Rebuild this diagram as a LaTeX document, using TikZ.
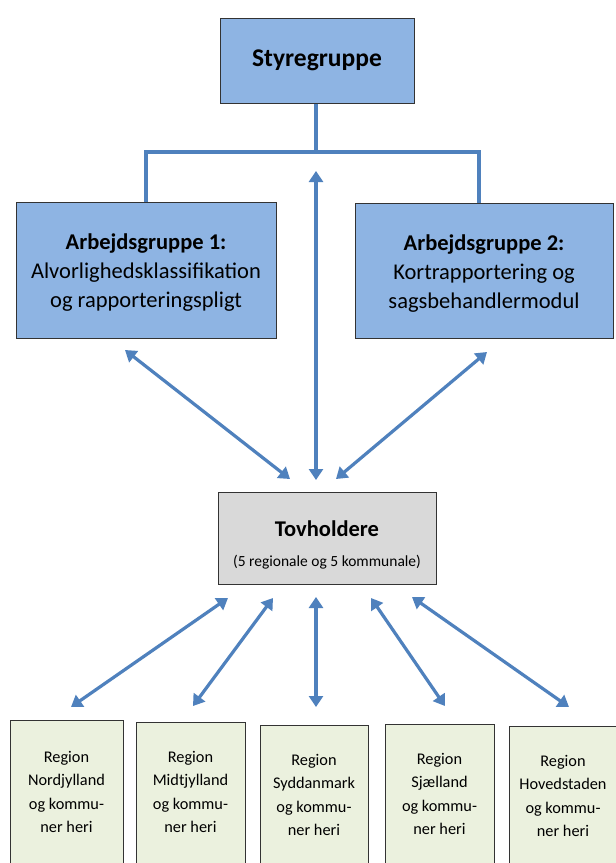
\documentclass[tikz,border=0pt]{standalone}
\usepackage{fontspec}
\setmainfont{Carlito}
\usetikzlibrary{arrows.meta}
\definecolor{boxblue}{HTML}{8EB4E3}
\definecolor{arrowblue}{HTML}{4F81BD}
\definecolor{boxgray}{HTML}{D9D9D9}
\definecolor{boxgreen}{HTML}{EBF1DE}
\begin{document}
\begin{tikzpicture}[x=1pt,y=-1pt,
  bluebox/.style={draw=black!80,line width=1pt,fill=boxblue,align=center,inner sep=0pt},
  graybox/.style={draw=black!80,line width=1pt,fill=boxgray,align=center,inner sep=0pt},
  greenbox/.style={draw=black!80,line width=0.8pt,fill=boxgreen,inner sep=0pt,anchor=north},
  regtext/.style={align=center,font=\fontsize{16.3}{23.5}\selectfont,inner sep=0pt},
  agtext/.style={align=center,font=\fontsize{22.5}{29}\selectfont,inner sep=0pt},
  link/.style={draw=arrowblue,line width=3.2pt},
  dbl/.style={draw=arrowblue,line width=3.2pt,{Triangle[width=14pt,length=11pt]}-{Triangle[width=14pt,length=11pt]}}]
\clip (0,0) rectangle (616,863);
\fill[white] (0,0) rectangle (616,863);

\node[bluebox,minimum width=194pt,minimum height=85pt,font=\fontsize{25.5}{30}\selectfont\bfseries] (sty) at (317,60.5) {Styregruppe};
\node[bluebox,minimum width=260pt,minimum height=136pt] (ag1) at (146,270) {};
\node[agtext] (ag1t) at (146,273) {\textbf{Arbejdsgruppe 1:}\\Alvorlighedsklassifikation\\og rapporteringspligt};
\node[bluebox,minimum width=258pt,minimum height=135pt] (ag2) at (484,270.5) {};
\node[agtext] (ag2t) at (484,273.5) {\textbf{Arbejdsgruppe 2:}\\Kortrapportering og\\sagsbehandlermodul};
\node[graybox,minimum width=218pt,minimum height=92pt] (tov) at (327,538) {};
\node[align=center,inner sep=0pt,font=\fontsize{15.5}{30}\selectfont] (tovt) at (327,545) {{\fontsize{22.5}{30}\selectfont\bfseries Tovholdere}\\(5 regionale og 5 kommunale)};

% region boxes
\node[greenbox,minimum width=113pt,minimum height=200pt] (r1) at (66.5,720) {};
\node[greenbox,minimum width=109pt,minimum height=200pt] (r2) at (190.5,722) {};
\node[greenbox,minimum width=108pt,minimum height=200pt] (r3) at (314,725) {};
\node[greenbox,minimum width=109pt,minimum height=200pt] (r4) at (439.5,724) {};
\node[greenbox,minimum width=108pt,minimum height=200pt] (r5) at (563,726) {};
\node[regtext] (t1) at (66.5,792) {Region\\Nordjylland\\og kommu-\\ner heri};
\node[regtext] (t2) at (190.5,792) {Region\\Midtjylland\\og kommu-\\ner heri};
\node[regtext] (t3) at (314,795) {Region\\Syddanmark\\og kommu-\\ner heri};
\node[regtext] (t4) at (439.5,794) {Region\\Sjælland\\og kommu-\\ner heri};
\node[regtext] (t5) at (563,796) {Region\\Hovedstaden\\og kommu-\\ner heri};

% tree connector from Styregruppe
\coordinate (bar) at (316,152);
\draw[link] (sty.south -| bar) -- (bar);
\draw[link] (ag1.north) |- (bar) -| (ag2.north -| 479,0);

% arrows to Tovholdere
\coordinate (c1a) at (125,350);
\coordinate (c1b) at (290,479);
\coordinate (c2a) at (487,352);
\coordinate (c2b) at (336,479);
\coordinate (cva) at (316,171);
\coordinate (cvb) at (316,480);
\draw[dbl] (c1a) -- (c1b);
\draw[dbl] (c2a) -- (c2b);
\draw[dbl] (cva) -- (cvb);

% arrows to regions
\coordinate (d1a) at (228,598); \coordinate (d1b) at (71,707);
\coordinate (d2a) at (273,598); \coordinate (d2b) at (193,706);
\coordinate (d3a) at (316,597); \coordinate (d3b) at (316,707);
\coordinate (d4a) at (371,598); \coordinate (d4b) at (445,706);
\coordinate (d5a) at (412,597); \coordinate (d5b) at (569,707);
\draw[dbl] (d1a) -- (d1b);
\draw[dbl] (d2a) -- (d2b);
\draw[dbl] (d3a) -- (d3b);
\draw[dbl] (d4a) -- (d4b);
\draw[dbl] (d5a) -- (d5b);
\end{tikzpicture}
\end{document}
